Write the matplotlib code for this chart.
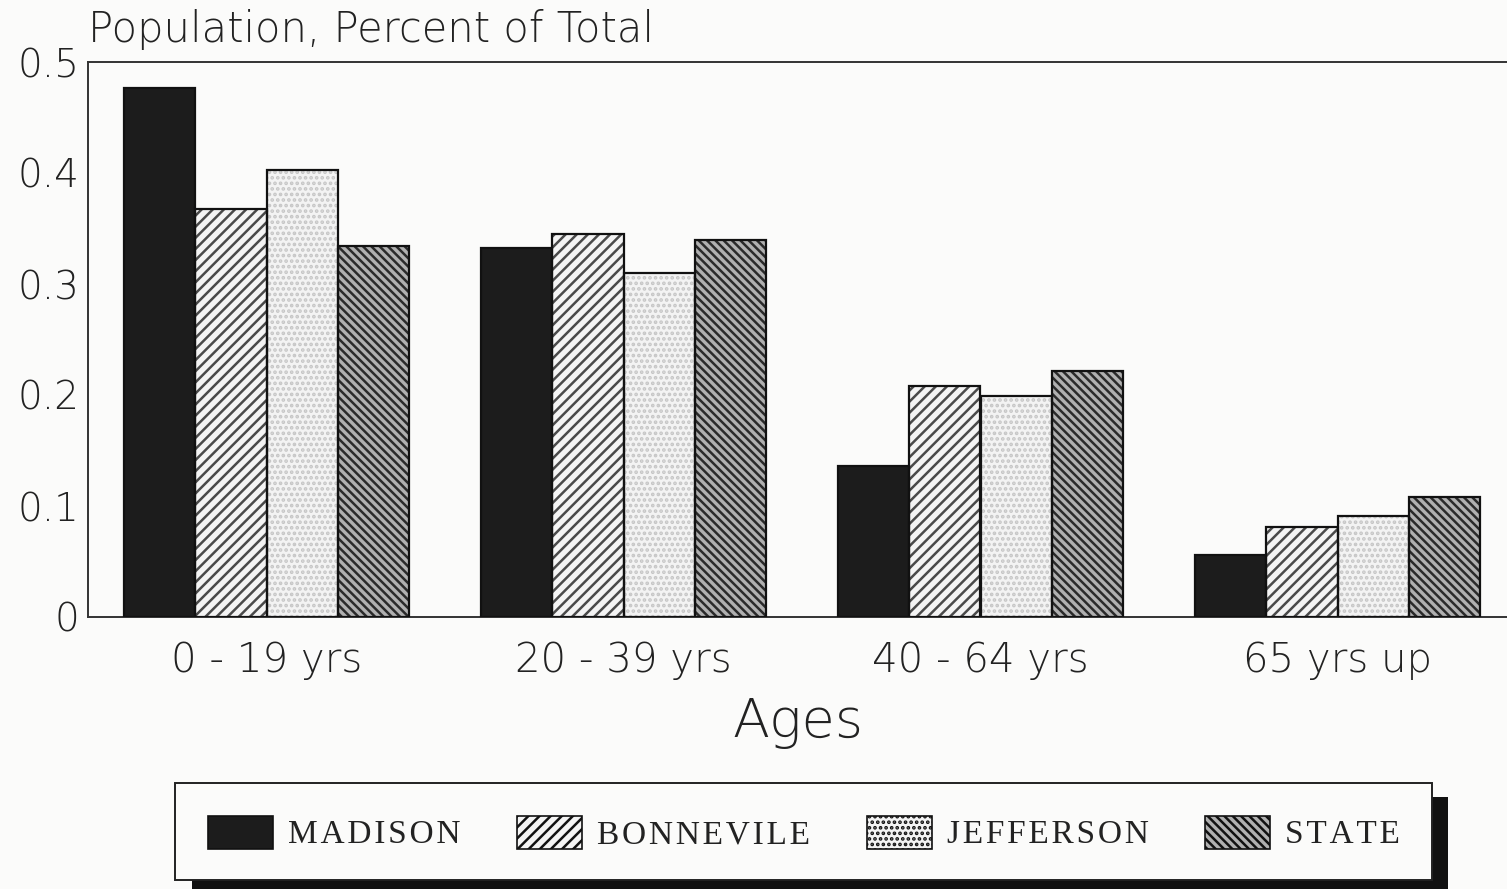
import matplotlib
matplotlib.use('Agg')
import matplotlib.pyplot as plt
import numpy as np
from matplotlib.patches import Rectangle, Patch

categories = ['0 - 19 yrs', '20 - 39 yrs', '40 - 64 yrs', '65 yrs up']
series_names = ['MADISON', 'BONNEVILE', 'JEFFERSON', 'STATE']
madison = [0.477, 0.332, 0.136, 0.056]
bonneville = [0.368, 0.345, 0.208, 0.081]
jefferson = [0.403, 0.310, 0.199, 0.091]
state = [0.334, 0.340, 0.222, 0.108]
yticks = [0, 0.1, 0.2, 0.3, 0.4, 0.5]
ytick_labels = ['0', '0.1', '0.2', '0.3', '0.4', '0.5']

series = [madison, bonneville, jefferson, state]
styles = [
    dict(face='#1c1c1c', hatch=None, hcol='#1c1c1c'),
    dict(face='#f4f4f4', hatch='///', hcol='#4a4a4a'),
    dict(face='#f3f3f3', hatch='...', hcol='#c6c6c6'),
    dict(face='#b0b0b0', hatch='\\\\\\\\', hcol='#2a2a2a'),
]

plt.rcParams['hatch.linewidth'] = 1.8
W, H = 1507, 889
fig = plt.figure(figsize=(W / 100, H / 100), dpi=100, facecolor='#fbfbfa')
ax = fig.add_axes([88 / W, 1 - 617 / H, (W - 88) / W, (617 - 62) / H])
ax.set_facecolor('#fbfbfa')

main_font = dict(family=['DejaVu Sans'], weight=200)

x = np.arange(len(categories))
bw = 0.2
for i, (vals, st) in enumerate(zip(series, styles)):
    pos = x + (i - 1.5) * bw
    ax.bar(pos, vals, bw, color=st['face'], hatch=st['hatch'],
           edgecolor=st['hcol'], linewidth=0, zorder=2)
    ax.bar(pos, vals, bw, fill=False, edgecolor='#111111', linewidth=1.6, zorder=3)

ax.set_xlim(-0.5, -0.5 + (W - 88) / 357)
ax.set_ylim(0, 0.5)
ax.set_yticks(yticks)
ax.set_yticklabels(ytick_labels, fontsize=28, **main_font)
ax.set_xticks(x)
ax.set_xticklabels(categories, fontsize=29, **main_font)
ax.tick_params(axis='both', length=0, colors='#222222')
ax.tick_params(axis='y', pad=6)
ax.tick_params(axis='x', pad=17)
for s in ['left', 'top', 'bottom']:
    ax.spines[s].set_linewidth(1.4)
    ax.spines[s].set_color('#333333')
ax.spines['right'].set_visible(False)

ax.set_xlabel('Ages', fontsize=39, labelpad=12, color='#222222', **main_font)
fig.text(88 / W, 1 - 30 / H, 'Population, Percent of Total', fontsize=30,
         ha='left', va='center', color='#222222', **main_font)

# legend frame with shadow
fig.patches.append(Rectangle((192 / W, 1 - 900 / H), (1448 - 192) / W, (900 - 797) / H,
                             transform=fig.transFigure, facecolor='#111111',
                             edgecolor='none', zorder=0))
fig.patches.append(Rectangle((175 / W, 1 - 880 / H), (1432 - 175) / W, (880 - 783) / H,
                             transform=fig.transFigure, facecolor='#fbfbfa',
                             edgecolor='#222222', linewidth=1.4, zorder=1))

handles = [Patch(facecolor=st['face'], hatch=st['hatch'], edgecolor='#111111',
                 linewidth=1.2) for st in styles]
spaced = ['\u200a'.join(n) for n in series_names]
leg = fig.legend(handles, spaced, loc='center', ncol=4,
                 bbox_to_anchor=(804 / W, 1 - 833 / H), frameon=False,
                 handlelength=1.95, handleheight=1.15, handletextpad=0.45,
                 columnspacing=1.7,
                 prop=dict(family=['Liberation Serif', 'DejaVu Serif'], size=24))
for t in leg.get_texts():
    t.set_color('#222222')

fig.savefig('out.png', dpi=100, facecolor=fig.get_facecolor())
